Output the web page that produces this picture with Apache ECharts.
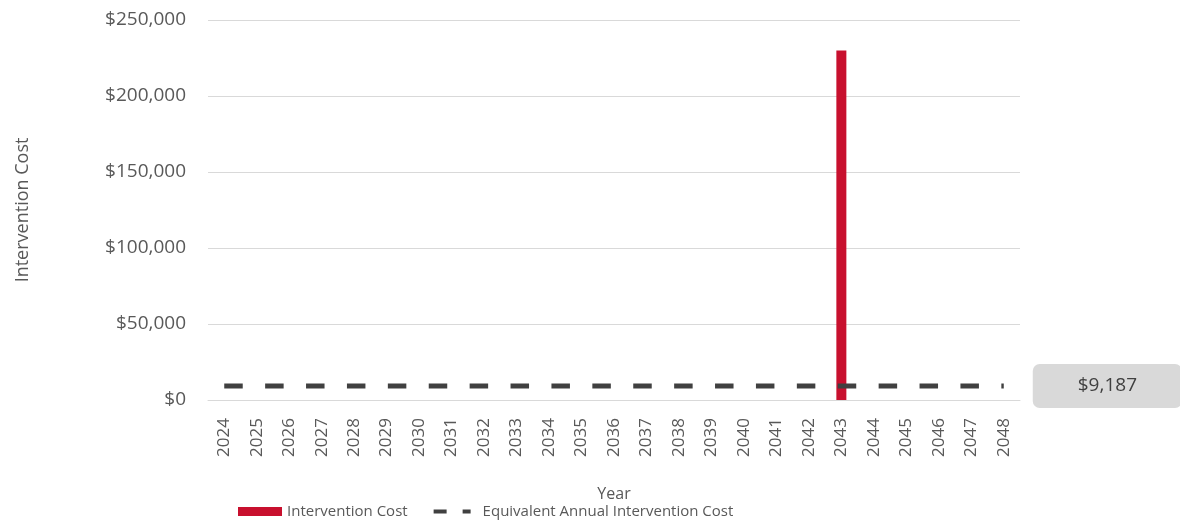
<!DOCTYPE html>
<html>
<head>
<meta charset="utf-8">
<script src="https://cdn.jsdelivr.net/npm/echarts@6/dist/echarts.min.js"></script>
<style>
  html, body { margin: 0; padding: 0; background: #fff; }
  #chart { width: 1180px; height: 525px; }
</style>
</head>
<body>
<div id="chart"></div>
<script>
// Years on the category axis
const years = ['2024','2025','2026','2027','2028','2029','2030','2031','2032','2033','2034','2035','2036',
  '2037','2038','2039','2040','2041','2042','2043','2044','2045','2046','2047','2048'];
// Intervention cost per year (single major intervention in 2043)
const interventionCost = [0,0,0,0,0,0,0,0,0,0,0,0,0,0,0,0,0,0,0,230000,0,0,0,0,0];
// Equivalent annual intervention cost (flat)
const equivalentAnnual = 9187;
const equivalentAnnualSeries = years.map(() => equivalentAnnual);
// Value axis ticks
const yTicks = [0, 50000, 100000, 150000, 200000, 250000];

const font = 'Open Sans';
const textColor = '#595959';
const fmtMoney = v => '$' + Math.round(v).toLocaleString('en-US');

const chart = echarts.init(document.getElementById('chart'));
chart.setOption({
  animation: false,
  textStyle: { fontFamily: font },
  grid: { left: 208, right: 160, top: 20, bottom: 125, containLabel: false },
  legend: {
    bottom: 1,
    left: 233,
    itemGap: 24,
    itemWidth: 44,
    itemHeight: 9,
    textStyle: { fontFamily: font, fontSize: 15, color: textColor },
    data: [
      { name: 'Intervention Cost', icon: 'rect', itemStyle: { color: '#c8102e' } },
      {
        name: 'Equivalent Annual Intervention Cost',
        itemStyle: { opacity: 0 },
        lineStyle: { color: '#404040', width: 4, type: [13, 16, 8, 100], cap: 'butt' }
      }
    ]
  },
  xAxis: {
    type: 'category',
    data: years,
    name: 'Year',
    nameLocation: 'middle',
    nameGap: 86,
    nameTextStyle: { fontFamily: font, fontSize: 16, color: textColor },
    axisLine: { lineStyle: { color: '#d9d9d9', width: 1 } },
    axisTick: { show: false },
    axisLabel: { rotate: 90, fontSize: 17, color: textColor, margin: 18, interval: 0 }
  },
  yAxis: {
    type: 'value',
    min: yTicks[0],
    max: yTicks[yTicks.length - 1],
    interval: yTicks[1] - yTicks[0],
    name: 'Intervention Cost',
    nameLocation: 'middle',
    nameGap: 176,
    nameRotate: 90,
    nameTextStyle: { fontFamily: font, fontSize: 18, color: textColor },
    axisLine: { show: false },
    axisTick: { show: false },
    splitLine: { lineStyle: { color: '#d9d9d9', width: 1 } },
    axisLabel: { fontSize: 19, color: textColor, margin: 22, formatter: v => fmtMoney(v) }
  },
  series: [
    {
      name: 'Intervention Cost',
      type: 'bar',
      data: interventionCost,
      barWidth: 10,
      itemStyle: { color: '#c8102e' },
      z: 2
    },
    {
      name: 'Equivalent Annual Intervention Cost',
      type: 'line',
      data: equivalentAnnualSeries,
      symbol: 'none',
      lineStyle: { color: '#404040', width: 5, type: [18.5, 22.4], cap: 'butt' },
      itemStyle: { color: '#404040' },
      z: 3,
      endLabel: {
        show: true,
        formatter: p => fmtMoney(p.value),
        distance: 29,
        align: 'left',
        backgroundColor: '#d9d9d9',
        borderRadius: 7,
        padding: [12, 45],
        lineHeight: 20,
        fontFamily: font,
        fontSize: 19,
        color: '#404040'
      }
    }
  ]
});
</script>
</body>
</html>
